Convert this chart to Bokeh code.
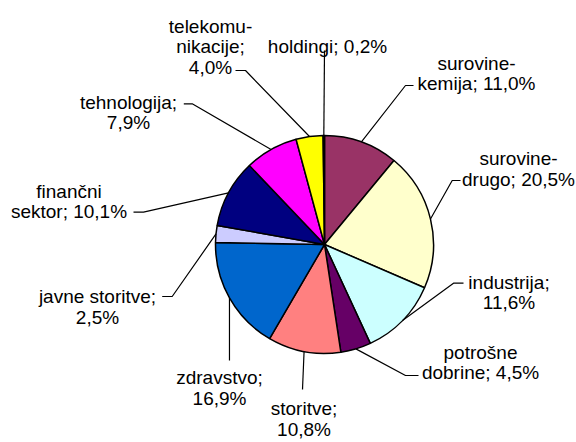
import math
from bokeh.plotting import figure
from bokeh.models import Range1d, ColumnDataSource
from bokeh.embed import file_html
from bokeh.resources import INLINE
from bokeh.core.properties import value

# ---- data ----
categories = ["surovine-kemija", "surovine-drugo", "industrija", "potrošne dobrine",
              "storitve", "zdravstvo", "javne storitve", "finančni sektor",
              "tehnologija", "telekomunikacije", "holdingi"]
shares = [11.0, 20.5, 11.6, 4.5, 10.8, 16.9, 2.5, 10.1, 7.9, 4.0, 0.2]
colors = ["#993366", "#FFFFCC", "#CCFFFF", "#660066", "#FF8080", "#0066CC",
          "#CCCCFF", "#000080", "#FF00FF", "#FFFF00", "#00FFFF"]

# ---- label layout (line wrapping, placement in page pixels) ----
wraps = [
    ["surovine-", "kemija; {v}"],
    ["surovine-", "drugo; {v}"],
    ["industrija;", "{v}"],
    ["potrošne", "dobrine; {v}"],
    ["storitve;", "{v}"],
    ["zdravstvo;", "{v}"],
    ["javne storitve;", "{v}"],
    ["finančni", "sektor; {v}"],
    ["tehnologija;", "{v}"],
    ["telekomu-", "nikacije;", "{v}"],
    ["holdingi; {v}"],
]
# (center x, first baseline y, elbow point, end point) in reference pixel coords
label_pos = [
    (476, 62.7, (405, 85), (413, 85)),
    (518, 158, (451.7, 180), (460, 180)),
    (508.5, 281.7, (453, 282.7), (463, 282.7)),
    (480, 351.7, (405, 375), (418, 375)),
    (303.5, 408, (302, 389), (302, 389)),
    (219, 377, (229, 360), (229, 360)),
    (97, 296, (171.7, 296), (161.7, 296)),
    (68.5, 190.7, (143, 211.7), (133, 211.7)),
    (128, 101.7, (191.7, 103.3), (183.3, 103.3)),
    (210, 25.7, (245, 70), (235, 70)),
    (327, 46, (324, 50), (324, 50)),
]
LINE_GAP = 20.5
PIE_CX, PIE_CY, PIE_R = 324, 244, 109
W, H = 576, 442
FONT = "Liberation Sans"
FSIZE = "19px"


def px(X):
    return X


def py(Y):
    return H - Y


total = sum(shares)
starts, ends, mids = [], [], []
cum = 0.0
for s in shares:
    f0 = cum / total
    cum += s
    f1 = cum / total
    starts.append(math.pi / 2 - 2 * math.pi * f0)
    ends.append(math.pi / 2 - 2 * math.pi * f1)
    mids.append((f0 + f1) / 2)

p = figure(width=W, height=H, output_backend="svg", toolbar_location=None,
           x_range=Range1d(0, W), y_range=Range1d(0, H),
           x_axis_location=None, y_axis_location=None,
           min_border=0, outline_line_color=None)
p.grid.visible = False
p.background_fill_color = "white"
p.border_fill_color = "white"

src = ColumnDataSource(dict(
    x=[px(PIE_CX)] * len(shares), y=[py(PIE_CY)] * len(shares),
    start=starts, end=ends, color=colors, cat=categories))
p.wedge(x="x", y="y", radius=PIE_R, radius_units="screen",
        start_angle="start", end_angle="end", direction="clock",
        fill_color="color", line_color="black", line_width=1.5, source=src)

# leader lines
xs, ys = [], []
for m, (cx, b, elbow, end) in zip(mids, label_pos):
    th = 2 * math.pi * m
    ex = PIE_CX + PIE_R * math.sin(th)
    ey = PIE_CY - PIE_R * math.cos(th)
    xs.append([px(ex), px(elbow[0]), px(end[0])])
    ys.append([py(ey), py(elbow[1]), py(end[1])])
p.multi_line(xs=xs, ys=ys, line_color="black", line_width=1.2)

# labels
tx, ty, tt = [], [], []
for v, lines, (cx, b, elbow, end) in zip(shares, wraps, label_pos):
    vs = f"{v:.1f}".replace(".", ",") + "%"
    for i, ln in enumerate(lines):
        tx.append(px(cx))
        ty.append(py(b + i * LINE_GAP))
        tt.append(ln.replace("{v}", vs))
p.text(x=tx, y=ty, text=tt, text_align="center", text_baseline="alphabetic",
       text_font=value(FONT), text_font_size=FSIZE, text_color="black")

open("out.html", "w").write(file_html(p, INLINE))
